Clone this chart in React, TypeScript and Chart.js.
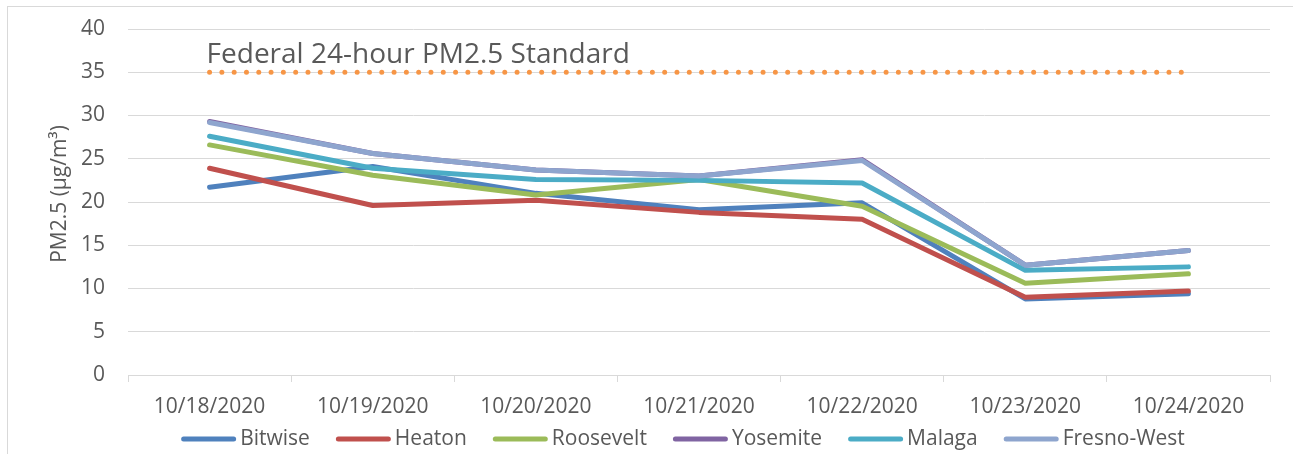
import React, { useEffect, useRef } from "react";
import { Chart, registerables } from "chart.js";

Chart.register(...registerables);

const categories = ["10/18/2020", "10/19/2020", "10/20/2020", "10/21/2020", "10/22/2020", "10/23/2020", "10/24/2020"];
const bitwise = [21.7, 24.1, 21.0, 19.1, 19.9, 8.8, 9.4];
const heaton = [23.9, 19.6, 20.2, 18.8, 18.0, 9.0, 9.7];
const roosevelt = [26.6, 23.1, 20.8, 22.6, 19.5, 10.6, 11.7];
const yosemite = [29.3, 25.6, 23.7, 23.0, 24.9, 12.7, 14.4];
const malaga = [27.6, 23.9, 22.6, 22.5, 22.2, 12.1, 12.5];
const fresnoWest = [29.2, 25.6, 23.7, 23.0, 24.8, 12.7, 14.4];
const federalStandard = [35, 35, 35, 35, 35, 35, 35];
const yTicks = [0, 5, 10, 15, 20, 25, 30, 35, 40];
const standardLabel = "Federal 24-hour PM2.5 Standard";
const yTitle = "PM2.5 (μg/m³)";

const FONT = '"Open Sans", "DejaVu Sans", sans-serif';
const TEXT = "#595959";
const GRID = "#D9D9D9";

const textPlugin = {
  id: "extraText",
  afterDatasetsDraw(chart: any) {
    const ctx = chart.ctx;
    const xs = chart.scales.x;
    const ys = chart.scales.y;
    const area = chart.chartArea;
    ctx.save();
    ctx.font = `28px ${FONT}`;
    ctx.fillStyle = TEXT;
    ctx.textAlign = "left";
    ctx.textBaseline = "alphabetic";
    ctx.fillText(standardLabel, xs.getPixelForValue(0) - 3, ys.getPixelForValue(35) - 9);
    ctx.restore();

    ctx.save();
    ctx.font = `21px ${FONT}`;
    ctx.fillStyle = TEXT;
    ctx.textAlign = "center";
    ctx.textBaseline = "middle";
    ctx.translate(60, (area.top + area.bottom) / 2 - 8);
    ctx.rotate(-Math.PI / 2);
    ctx.fillText(yTitle, 0, 0);
    ctx.restore();
  },
};

const legendPlugin = {
  id: "customLegend",
  afterDraw(chart: any) {
    const ctx = chart.ctx;
    const items = chart.data.datasets.filter((d: any) => d.showInLegend);
    ctx.save();
    ctx.font = `21px ${FONT}`;
    const sample = 55;
    const gapT = 4;
    const gapI = 26;
    const widths = items.map((d: any) => ctx.measureText(d.label).width);
    const total = widths.reduce((a: number, w: number) => a + sample + gapT + w, 0) + gapI * (items.length - 1);
    let x = 683 - total / 2;
    const y = 439;
    items.forEach((d: any, i: number) => {
      ctx.strokeStyle = d.borderColor;
      ctx.lineWidth = 5;
      ctx.lineCap = "round";
      ctx.beginPath();
      ctx.moveTo(x + 2.5, y);
      ctx.lineTo(x + sample - 2.5, y);
      ctx.stroke();
      ctx.fillStyle = TEXT;
      ctx.textAlign = "left";
      ctx.textBaseline = "middle";
      ctx.fillText(d.label, x + sample + gapT, y);
      x += sample + gapT + widths[i] + gapI;
    });
    ctx.restore();
  },
};

function series(label: string, data: number[], color: string, order: number) {
  return {
    label,
    data,
    borderColor: color,
    backgroundColor: color,
    borderWidth: 5,
    pointRadius: 0,
    tension: 0,
    borderCapStyle: "round",
    borderJoinStyle: "round",
    order,
    showInLegend: true,
  };
}

export default function App() {
  const ref = useRef<HTMLCanvasElement>(null);
  useEffect(() => {
    if (!ref.current) return;
    const chart = new Chart(ref.current, {
      type: "line",
      data: {
        labels: categories,
        datasets: [
          series("Bitwise", bitwise, "#4F81BD", 6),
          series("Heaton", heaton, "#C0504D", 5),
          series("Roosevelt", roosevelt, "#9BBB59", 4),
          series("Yosemite", yosemite, "#8064A2", 3),
          series("Malaga", malaga, "#4BACC6", 2),
          series("Fresno-West", fresnoWest, "#8EA5CE", 1),
          {
            label: "Federal Standard",
            data: federalStandard,
            borderColor: "#F79646",
            backgroundColor: "#F79646",
            borderWidth: 5,
            borderDash: [0, 12.3],
            borderCapStyle: "round",
            pointRadius: 0,
            order: 0,
            showInLegend: false,
          } as any,
        ] as any,
      },
      options: {
        responsive: false,
        animation: false,
        layout: { padding: { top: 29, right: 23, bottom: 0, left: 0 } },
        plugins: { legend: { display: false }, tooltip: { enabled: false }, title: { display: false } },
        scales: {
          x: {
            type: "category",
            offset: true,
            grid: { display: true, drawOnChartArea: false, drawTicks: true, tickLength: 7, color: GRID, offset: true },
            border: { display: true, color: GRID, width: 1 },
            ticks: { color: TEXT, font: { family: FONT, size: 21 }, padding: 12, maxRotation: 0, autoSkip: false },
            afterFit: (s: any) => { s.height = 79; },
          },
          y: {
            min: 0,
            max: 40,
            afterBuildTicks: (s: any) => { s.ticks = yTicks.map((v) => ({ value: v })); },
            grid: { color: GRID, lineWidth: 1, drawTicks: true, tickLength: 23, tickColor: "rgba(0,0,0,0)" },
            border: { display: false },
            ticks: { color: TEXT, font: { family: FONT, size: 21 }, padding: 0 },
            afterFit: (s: any) => { s.width = 128; },
          },
        },
      } as any,
      plugins: [textPlugin, legendPlugin],
    });
    return () => chart.destroy();
  }, []);
  return (
    <div style={{ position: "fixed", left: 0, top: 0, width: 1293, height: 454, background: "#fff", overflow: "hidden" }}>
      <div style={{ position: "absolute", left: 7, top: 6, width: 1400, height: 600, borderLeft: `1px solid ${GRID}`, borderTop: `1px solid ${GRID}` }} />
      <canvas ref={ref} width={1293} height={454} style={{ position: "absolute", left: 0, top: 0 }} />
    </div>
  );
}
